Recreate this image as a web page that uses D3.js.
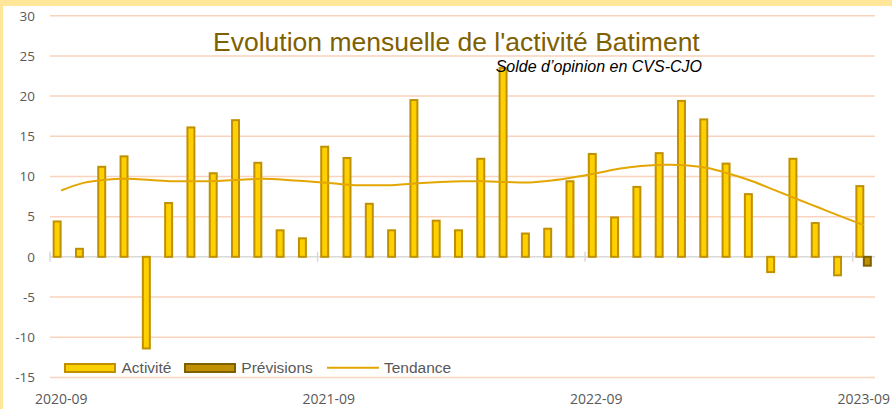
<!DOCTYPE html>
<html>
<head>
<meta charset="utf-8">
<script src="https://cdn.jsdelivr.net/npm/d3@7"></script>
<style>
  html, body { margin: 0; padding: 0; background: #fff; }
  svg { display: block; }
</style>
</head>
<body>
<div id="chart"></div>
<script>
// Monthly categories, 2020-09 to 2023-09
const months = [
  "2020-09","2020-10","2020-11","2020-12","2021-01","2021-02","2021-03","2021-04","2021-05","2021-06","2021-07","2021-08",
  "2021-09","2021-10","2021-11","2021-12","2022-01","2022-02","2022-03","2022-04","2022-05","2022-06","2022-07","2022-08",
  "2022-09","2022-10","2022-11","2022-12","2023-01","2023-02","2023-03","2023-04","2023-05","2023-06","2023-07","2023-08",
  "2023-09"
];

// Activité (solde d'opinion, CVS-CJO)
const activite = [
  4.4, 1.0, 11.2, 12.5, -11.4, 6.7, 16.1, 10.4, 17.0, 11.7, 3.3, 2.3,
  13.7, 12.3, 6.6, 3.3, 19.5, 4.5, 3.3, 12.2, 23.5, 2.9, 3.5, 9.4,
  12.8, 4.9, 8.7, 12.9, 19.4, 17.1, 11.6, 7.8, -1.9, 12.2, 4.2, -2.3,
  8.8
];

// Prévisions
const previsionMonths = ["2023-09"];
const previsionValues = [-1.1];

// Tendance (smoothed trend)
const tendance = [
  8.25, 9.2, 9.6, 9.7, 9.55, 9.4, 9.4, 9.45, 9.6, 9.7, 9.6, 9.4,
  9.2, 8.95, 8.9, 8.95, 9.15, 9.3, 9.4, 9.4, 9.3, 9.25, 9.5, 9.9,
  10.4, 10.95, 11.3, 11.45, 11.4, 11.05, 10.3, 9.4, 8.3, 7.2, 6.1, 5.0,
  3.95
];

const yTicks = [-15, -10, -5, 0, 5, 10, 15, 20, 25, 30];
const xTickLabels = ["2020-09", "2021-09", "2022-09", "2023-09"];
const seriesNames = ["Activité", "Prévisions", "Tendance"];

const W = 892, H = 409;
const plotLeft = 50, plotRight = 875;
const colors = {
  frame: "#FFE699",
  grid: "#F9D3BD",
  zero: "#D9D9D9",
  actFill: "#FFD000",
  actStroke: "#BF9000",
  prevFill: "#BF9000",
  prevStroke: "#7F6000",
  trend: "#E3A600",
  text: "#595959",
  title: "#7F6000"
};

const svg = d3.select("#chart").append("svg")
  .attr("width", W).attr("height", H);

// frame + chart area
svg.append("rect").attr("x", 0).attr("y", 0).attr("width", W).attr("height", H).attr("fill", colors.frame);
svg.append("rect").attr("x", 3).attr("y", 6).attr("width", W - 3).attr("height", H - 6).attr("fill", "#fff");

const y = d3.scaleLinear().domain([-15, 30]).range([377.4, 15.7]);
const x = d3.scaleBand().domain(months).range([plotLeft, plotRight]).padding(0);
const bw = x.bandwidth();
const xs = d3.scaleBand().domain(["Activité", "Prévisions"]).range([0.164 * bw, 0.836 * bw]).padding(0);
const barW = xs.bandwidth() * 0.93;

// horizontal gridlines
svg.append("g").selectAll("line")
  .data(yTicks.filter(d => d !== 0))
  .join("line")
  .attr("x1", plotLeft).attr("x2", plotRight)
  .attr("y1", d => y(d)).attr("y2", d => y(d))
  .attr("stroke", colors.grid).attr("stroke-width", 1.5);

// y axis labels (plain hyphen for negatives)
const yAxis = d3.axisLeft(y).tickValues(yTicks).tickFormat(d => String(d)).tickSize(0).tickPadding(0);
const gy = svg.append("g").attr("transform", "translate(35,0)").call(yAxis);
gy.select(".domain").remove();
gy.selectAll("text")
  .attr("font-family", "'Open Sans', sans-serif")
  .attr("font-size", 13.5)
  .attr("fill", colors.text);

// zero line
svg.append("line")
  .attr("x1", plotLeft).attr("x2", plotRight)
  .attr("y1", y(0)).attr("y2", y(0))
  .attr("stroke", colors.zero).attr("stroke-width", 1.5);

// Activité bars
const barY = v => Math.min(y(v), y(0));
const barH = v => Math.abs(y(v) - y(0));
svg.append("g").selectAll("rect")
  .data(months.map((m, i) => ({ m, v: activite[i] })))
  .join("rect")
  .attr("x", d => x(d.m) + xs("Activité"))
  .attr("y", d => barY(d.v))
  .attr("width", barW)
  .attr("height", d => barH(d.v))
  .attr("fill", colors.actFill)
  .attr("stroke", colors.actStroke)
  .attr("stroke-width", 2);

// Prévisions bars
svg.append("g").selectAll("rect")
  .data(previsionMonths.map((m, i) => ({ m, v: previsionValues[i] })))
  .join("rect")
  .attr("x", d => x(d.m) + xs("Prévisions"))
  .attr("y", d => barY(d.v))
  .attr("width", barW)
  .attr("height", d => barH(d.v))
  .attr("fill", colors.prevFill)
  .attr("stroke", colors.prevStroke)
  .attr("stroke-width", 2);

// tick marks on the category axis (every 12 months, at band edges)
svg.append("g").selectAll("line")
  .data(xTickLabels)
  .join("line")
  .attr("x1", d => x(d)).attr("x2", d => x(d))
  .attr("y1", y(0) - 5).attr("y2", y(0) + 5)
  .attr("stroke", colors.zero).attr("stroke-width", 1.5);

// trend line
const line = d3.line()
  .x((d, i) => x(months[i]) + bw / 2)
  .y(d => y(d))
  .curve(d3.curveCatmullRom);
svg.append("path")
  .datum(tendance)
  .attr("d", line)
  .attr("fill", "none")
  .attr("stroke", colors.trend)
  .attr("stroke-width", 2);

// x axis labels
const xAxis = d3.axisBottom(x).tickValues(xTickLabels).tickSize(0).tickPadding(0);
const gx = svg.append("g").attr("transform", "translate(0,393)").call(xAxis);
gx.select(".domain").remove();
gx.selectAll("text")
  .attr("dy", "0.8em")
  .attr("font-family", "'Open Sans', sans-serif")
  .attr("font-size", 14)
  .attr("fill", colors.text);

// title and subtitle
svg.append("text")
  .attr("x", 213).attr("y", 50.5)
  .attr("font-family", "'Liberation Sans', Arial, sans-serif")
  .attr("font-size", 26.5)
  .attr("fill", colors.title)
  .text("Evolution mensuelle de l'activité Batiment");
svg.append("text")
  .attr("x", 702).attr("y", 71.5)
  .attr("text-anchor", "end")
  .attr("font-family", "'Liberation Sans', Arial, sans-serif")
  .attr("font-style", "italic")
  .attr("font-size", 16)
  .attr("fill", "#000")
  .text("Solde d\u2019opinion en CVS-CJO");

// legend
const legend = svg.append("g").attr("font-family", "'Liberation Sans', Arial, sans-serif").attr("font-size", 15.5).attr("fill", colors.text);
const legendX = [65, 185, 327];
legend.append("rect").attr("x", legendX[0]).attr("y", 364).attr("width", 50).attr("height", 8)
  .attr("fill", colors.actFill).attr("stroke", colors.actStroke).attr("stroke-width", 2);
legend.append("rect").attr("x", legendX[1]).attr("y", 364).attr("width", 50).attr("height", 8)
  .attr("fill", colors.prevFill).attr("stroke", colors.prevStroke).attr("stroke-width", 2);
legend.append("line").attr("x1", legendX[2]).attr("x2", legendX[2] + 52).attr("y1", 367.7).attr("y2", 367.7)
  .attr("stroke", colors.trend).attr("stroke-width", 2);
legend.selectAll("text.lbl")
  .data(seriesNames)
  .join("text")
  .attr("class", "lbl")
  .attr("x", (d, i) => [121.5, 241.3, 384][i])
  .attr("y", 373)
  .text(d => d);
</script>
</body>
</html>
